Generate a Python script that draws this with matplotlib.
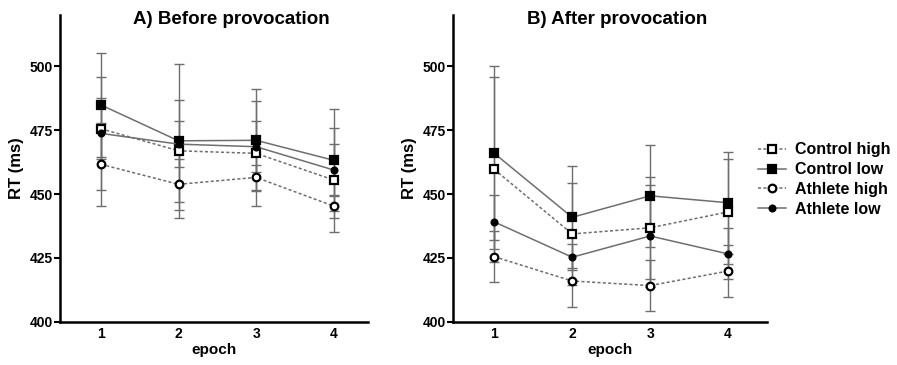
import numpy as np
import matplotlib.pyplot as plt

# Epochs on the x axis
EPOCHS = [1, 2, 3, 4]

# Panel A: before provocation (mean RT, ms) and error bar half-widths
before_control_high = [475.5, 466.9, 465.9, 455.5]
before_control_low = [484.8, 470.8, 471.0, 463.2]
before_athlete_high = [461.6, 453.8, 456.5, 445.3]
before_athlete_low = [473.7, 469.5, 468.5, 459.4]

before_control_high_err = [12.0, 20.0, 20.5, 20.2]
before_control_low_err = [20.5, 30.0, 20.0, 20.0]
before_athlete_high_err = [16.3, 10.0, 5.0, 4.5]
before_athlete_low_err = [22.0, 9.0, 10.0, 10.0]

# Panel B: after provocation
after_control_high = [459.6, 434.4, 436.8, 443.0]
after_control_low = [465.9, 440.9, 449.3, 446.6]
after_athlete_high = [425.5, 416.0, 414.2, 419.9]
after_athlete_low = [439.1, 425.3, 433.6, 426.6]

after_control_high_err = [36.0, 20.0, 20.0, 20.5]
after_control_low_err = [34.0, 20.0, 20.0, 20.0]
after_athlete_high_err = [10.0, 10.0, 10.0, 10.0]
after_athlete_low_err = [10.7, 5.0, 20.0, 10.0]

SERIES_LABELS = ["Control high", "Control low", "Athlete high", "Athlete low"]

LINE_COLOR = "#6e6e6e"
FONT = "Liberation Sans"

# Marker / line style per series, same order as SERIES_LABELS
STYLES = [
    dict(marker="s", mfc="white", ms=5.5, ls=(0, (2, 1.5))),
    dict(marker="s", mfc="black", ms=5.5, ls="-"),
    dict(marker="o", mfc="white", ms=5.5, ls=(0, (2, 1.5))),
    dict(marker="o", mfc="black", ms=4.2, ls="-"),
]


def draw_panel(ax, means, errs, xmax):
    """Draw the four series with error bars on one axes."""
    handles = []
    for values, err, style, label in zip(means, errs, STYLES, SERIES_LABELS):
        # error bars first so markers sit on top
        ax.errorbar(EPOCHS, values, yerr=err, fmt="none", ecolor=LINE_COLOR,
                    elinewidth=1.0, capsize=3.6, capthick=1.0, zorder=2)
        line, = ax.plot(EPOCHS, values, color=LINE_COLOR, lw=1.1,
                        linestyle=style["ls"], marker=style["marker"],
                        markersize=style["ms"], markerfacecolor=style["mfc"],
                        markeredgecolor="black", markeredgewidth=1.6,
                        label=label, zorder=3)
        handles.append(line)

    ax.set_xlim(0.47, xmax)
    ax.set_ylim(400, 520)
    ax.set_xticks(EPOCHS)
    ax.set_yticks([400, 425, 450, 475, 500])

    for side in ["top", "right"]:
        ax.spines[side].set_visible(False)
    for side in ["left", "bottom"]:
        ax.spines[side].set_linewidth(1.8)

    ax.tick_params(axis="y", direction="out", length=4, width=1.5, pad=1)
    ax.tick_params(axis="x", direction="out", length=0, width=1.5, pad=4)
    for lbl in ax.get_xticklabels() + ax.get_yticklabels():
        lbl.set_fontfamily(FONT)
        lbl.set_fontweight("bold")
        lbl.set_fontsize(10)

    ax.set_xlabel("epoch", fontfamily=FONT, fontweight="bold", fontsize=11,
                  labelpad=1)
    ax.set_ylabel("RT (ms)", fontfamily=FONT, fontweight="bold", fontsize=12,
                  labelpad=4)
    return handles


def main():
    fig = plt.figure(figsize=(8.97, 3.65), dpi=100)

    ax_a = fig.add_axes([0.0669, 0.118, 0.343, 0.841])
    ax_b = fig.add_axes([0.505, 0.118, 0.350, 0.841])

    draw_panel(
        ax_a,
        [before_control_high, before_control_low, before_athlete_high, before_athlete_low],
        [before_control_high_err, before_control_low_err, before_athlete_high_err,
         before_athlete_low_err],
        4.44,
    )
    handles = draw_panel(
        ax_b,
        [after_control_high, after_control_low, after_athlete_high, after_athlete_low],
        [after_control_high_err, after_control_low_err, after_athlete_high_err,
         after_athlete_low_err],
        4.5,
    )

    # Panel titles
    fig.text(231 / 897, 1 - 19 / 365, "A) Before provocation", ha="center",
             va="center", fontfamily=FONT, fontweight="bold", fontsize=13.5)
    fig.text(617 / 897, 1 - 19 / 365, "B) After provocation", ha="center",
             va="center", fontfamily=FONT, fontweight="bold", fontsize=13.5)

    # Legend to the right of panel B
    fig.legend(handles, SERIES_LABELS, loc="upper left",
               bbox_to_anchor=(752 / 897, 1 - 136 / 365), frameon=False,
               handlelength=1.7, handletextpad=0.6, labelspacing=0.3,
               borderaxespad=0, prop=dict(family=FONT, weight="bold", size=11.5))

    fig.savefig("out.png", dpi=100)


if __name__ == "__main__":
    main()
